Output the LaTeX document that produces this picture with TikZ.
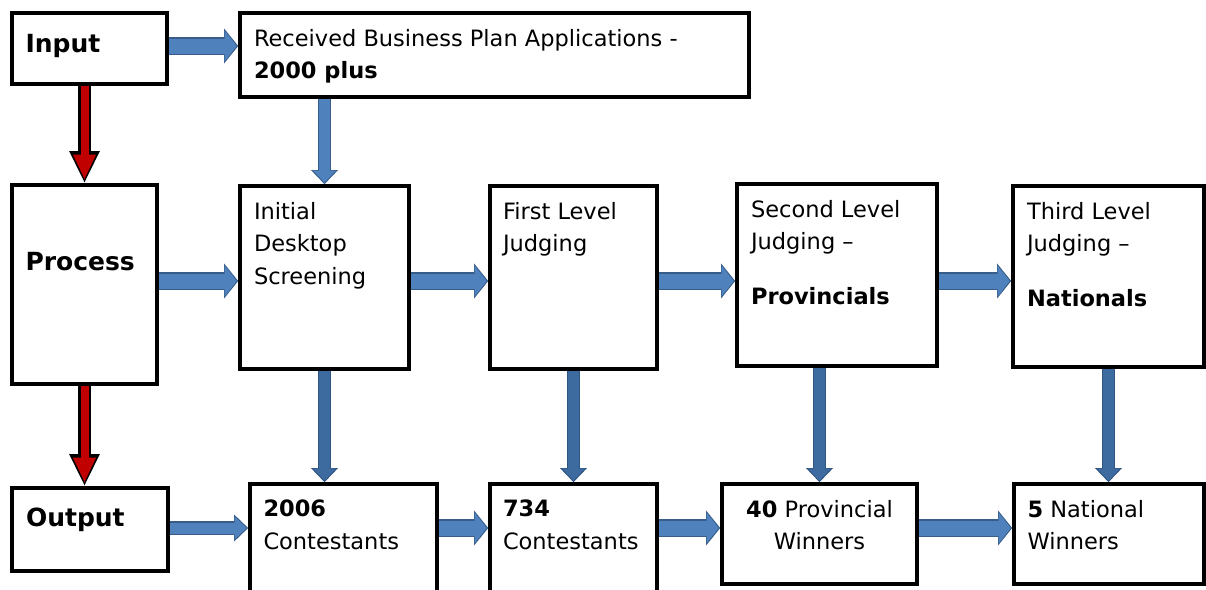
\documentclass[tikz,border=0pt]{standalone}
\usepackage{fontspec}
\setmainfont{DejaVu Sans}
\usetikzlibrary{arrows.meta}
\definecolor{blockfill}{HTML}{4F81BD}
\definecolor{blockline}{HTML}{385D8A}
\definecolor{dropfill}{HTML}{3D6B9F}
\definecolor{dropline}{HTML}{2F5581}
\definecolor{stopred}{HTML}{C00000}
\newcommand{\boxtext}[4][t]{\parbox[c][#3][#1]{#2}{\raggedright#4}}
\newcommand{\tagfont}{\fontsize{25}{30}\selectfont\bfseries}
\tikzset{
	stage/.style = {
		shape=rectangle,
		draw,
		line width=3.6pt,
		inner sep=0pt,
		font=\fontsize{22.5}{32.5}\selectfont
	},
	redflow/.style = {
		line width=13pt,
		draw=black,
		-{Triangle[width=28pt,length=32pt]},
		postaction={draw=stopred, line width=8pt,
			-{Triangle[width=21pt,length=25pt]}, shorten >=3.5pt}
	},
	flowwide/.style = {
		line width=17.4pt,
		draw=blockline,
		-{Triangle[width=34pt,length=14pt]},
		postaction={draw=blockfill, line width=15pt,
			-{Triangle[width=30pt,length=12pt]}, shorten >=1.5pt}
	},
	flowthin/.style = {
		line width=13.4pt,
		draw=#1line,
		-{Triangle[width=26pt,length=14pt]},
		postaction={draw=#1fill, line width=11pt,
			-{Triangle[width=22pt,length=12pt]}, shorten >=1.5pt}
	},
	flowthin/.default=block
}
\begin{document}
\begin{tikzpicture}[x=1pt, y=-1pt]
		\useasboundingbox (0,0) rectangle (1206,589);
		\clip (0,0) rectangle (1206,589);
		\node[stage, minimum width=155pt, minimum height=71pt] (input) at (89.5,48.5)
			{\boxtext[c]{128pt}{60pt}{\tagfont Input\par\vspace{6pt}}};
		\node[stage, minimum width=509pt, minimum height=84pt] (received) at (494.5,55)
			{\boxtext{481pt}{52pt}{Received Business Plan Applications -\\
			\textbf{2000 plus}}};
		\node[stage, minimum width=145pt, minimum height=199pt] (process) at (84.5,284.5)
			{\boxtext[c]{118pt}{180pt}{\tagfont Process\par\vspace{46pt}}};
		\node[stage, minimum width=169pt, minimum height=183pt] (initial) at (324.5,277.5)
			{\boxtext{141pt}{151pt}{Initial\\ Desktop\\ Screening}};
		\node[stage, minimum width=167pt, minimum height=183pt] (first) at (573.5,277.5)
			{\boxtext{141pt}{151pt}{First Level\\ Judging}};
		\node[stage, minimum width=200pt, minimum height=182pt] (second) at (837,275)
			{\boxtext{172pt}{150pt}{Second Level\\ Judging –\\[22pt]
			\textbf{Provincials}}};
		\node[stage, minimum width=191pt, minimum height=181pt] (third) at (1108.5,276.5)
			{\boxtext{163pt}{149pt}{Third Level\\ Judging –\\[22pt]
			\textbf{Nationals}}};
		\node[stage, minimum width=156pt, minimum height=83pt] (output) at (90,529.5)
			{\boxtext[c]{128pt}{70pt}{\tagfont Output\par\vspace{20pt}}};
		\node[stage, minimum width=187pt, minimum height=136pt] (c2006) at (343.5,552)
			{\boxtext{160pt}{104pt}{\textbf{2006}\\ Contestants}};
		\node[stage, minimum width=167pt, minimum height=136pt] (c734) at (573.5,552)
			{\boxtext{141pt}{104pt}{\textbf{734}\\ Contestants}};
		\node[stage, minimum width=195pt, minimum height=100pt] (w40) at (819.5,534)
			{\boxtext{167pt}{68pt}{\centering\textbf{40} Provincial\\ Winners}};
		\node[stage, minimum width=190pt, minimum height=100pt] (w5) at (1109,534)
			{\boxtext{163pt}{68pt}{\textbf{5} National\\ Winners}};
		\coordinate (toprow) at (0,46);
		\coordinate (midrow) at (0,281);
		\coordinate (lowrow) at (0,528);
		\draw[redflow] (input.south -| process.north) -- (process.north);
		\draw[redflow] (process.south) -- (process.south |- output.north);
		\draw[flowwide] (input.east |- toprow) -- (received.west |- toprow);
		\draw[flowthin] (received.south -| initial.north) -- (initial.north);
		\draw[flowwide] (process.east |- midrow) -- (initial.west |- midrow);
		\draw[flowwide] (initial.east |- midrow) -- (first.west |- midrow);
		\draw[flowwide] (first.east |- midrow) -- (second.west |- midrow);
		\draw[flowwide] (second.east |- midrow) -- (third.west |- midrow);
		\draw[flowthin=drop] (initial.south) -- (initial.south |- c2006.north);
		\draw[flowthin=drop] (first.south) -- (first.south |- c734.north);
		\draw[flowthin=drop] (second.south -| w40.north) -- (w40.north);
		\draw[flowthin=drop] (third.south) -- (third.south |- w5.north);
		\draw[flowthin] (output.east |- lowrow) -- (c2006.west |- lowrow);
		\draw[flowwide] (c2006.east |- lowrow) -- (c734.west |- lowrow);
		\draw[flowwide] (c734.east |- lowrow) -- (w40.west |- lowrow);
		\draw[flowwide] (w40.east |- lowrow) -- (w5.west |- lowrow);
\end{tikzpicture}
\end{document}
